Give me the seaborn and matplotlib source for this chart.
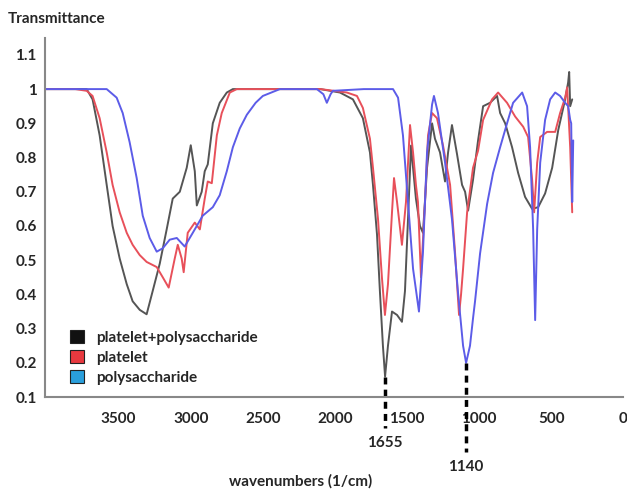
import matplotlib
matplotlib.use("Agg")
import matplotlib.pyplot as plt
from matplotlib.patches import Patch
import seaborn as sns
import pandas as pd
import numpy as np

# Données (nombre d'onde en 1/cm, transmittance)
wn_mix = [4010, 3800, 3722, 3681, 3632, 3583, 3542, 3493, 3444, 3403, 3354, 3306, 3264, 3215,
          3167, 3125, 3076, 3028, 3000, 2972, 2958, 2924, 2903, 2882, 2847, 2799, 2750, 2708,
          2400, 2100, 1965, 1875, 1806, 1757, 1736, 1708, 1688, 1667, 1652, 1632, 1604, 1569,
          1535, 1514, 1493, 1472, 1458, 1438, 1410, 1389, 1361, 1326, 1306, 1271, 1236, 1215,
          1188, 1153, 1118, 1097, 1076, 1042, 1007, 972, 924, 875, 854, 819, 771, 729, 681,
          632, 590, 542, 493, 451, 403, 382, 375, 368, 354]
t_mix = [1.0, 1.0, 1.0, 0.97, 0.865, 0.72, 0.60, 0.505, 0.43, 0.38, 0.355, 0.342, 0.41, 0.49,
         0.59, 0.68, 0.70, 0.77, 0.836, 0.76, 0.66, 0.70, 0.76, 0.78, 0.90, 0.96, 0.99, 1.0,
         1.0, 1.0, 0.99, 0.97, 0.915, 0.815, 0.72, 0.575, 0.41, 0.25, 0.16, 0.25, 0.35, 0.34,
         0.32, 0.41, 0.62, 0.835, 0.77, 0.68, 0.60, 0.58, 0.77, 0.90, 0.855, 0.815, 0.73, 0.815,
         0.895, 0.81, 0.72, 0.70, 0.645, 0.735, 0.85, 0.95, 0.96, 0.98, 0.93, 0.90, 0.83, 0.755,
         0.685, 0.65, 0.655, 0.695, 0.77, 0.88, 0.97, 1.02, 1.05, 0.95, 0.97]

wn_plat = [4010, 3800, 3722, 3681, 3632, 3583, 3542, 3493, 3444, 3403, 3354, 3306, 3236, 3194,
           3153, 3111, 3090, 3063, 3049, 3021, 2972, 2937, 2903, 2882, 2854, 2819, 2785, 2729,
           2681, 2400, 2100, 1917, 1847, 1806, 1757, 1736, 1701, 1674, 1653, 1632, 1604, 1590,
           1569, 1535, 1507, 1479, 1458, 1438, 1424, 1403, 1375, 1354, 1326, 1292, 1250, 1201,
           1167, 1139, 1125, 1111, 1083, 1042, 1007, 972, 910, 868, 806, 750, 694, 660, 632,
           618, 597, 576, 528, 472, 438, 403, 389, 368, 354]
t_plat = [1.0, 1.0, 0.995, 0.98, 0.915, 0.815, 0.72, 0.64, 0.58, 0.545, 0.515, 0.495, 0.48, 0.45,
          0.42, 0.505, 0.545, 0.505, 0.465, 0.58, 0.61, 0.59, 0.68, 0.73, 0.725, 0.865, 0.93, 0.99,
          1.0, 1.0, 1.0, 0.99, 0.98, 0.945, 0.855, 0.77, 0.62, 0.45, 0.34, 0.43, 0.64, 0.74,
          0.67, 0.545, 0.67, 0.895, 0.815, 0.72, 0.67, 0.45, 0.67, 0.865, 0.93, 0.915, 0.835, 0.72,
          0.525, 0.34, 0.40, 0.475, 0.64, 0.77, 0.82, 0.91, 0.97, 0.99, 0.96, 0.92, 0.89, 0.86, 0.735,
          0.64, 0.785, 0.86, 0.875, 0.875, 0.93, 0.975, 1.005, 0.83, 0.64]

wn_poly = [4010, 3700, 3583, 3514, 3472, 3424, 3375, 3333, 3285, 3236, 3194, 3146, 3097, 3042,
           2986, 2917, 2847, 2799, 2750, 2708, 2660, 2611, 2550, 2500, 2382, 2125, 2080, 2056,
           2030, 2014, 1800, 1597, 1562, 1528, 1493, 1458, 1417, 1389, 1361, 1326, 1313, 1285,
           1236, 1188, 1146, 1111, 1090, 1063, 1042, 1028, 993, 944, 903, 854, 806, 764, 701,
           667, 646, 625, 611, 597, 576, 542, 507, 472, 438, 403, 382, 368, 361, 354, 347]
t_poly = [1.0, 1.0, 1.0, 0.975, 0.93, 0.845, 0.74, 0.63, 0.565, 0.525, 0.535, 0.56, 0.565, 0.54,
          0.58, 0.63, 0.655, 0.69, 0.76, 0.83, 0.885, 0.925, 0.96, 0.98, 1.0, 1.0, 0.985, 0.96,
          0.985, 0.995, 1.0, 1.0, 0.975, 0.865, 0.67, 0.475, 0.35, 0.525, 0.815, 0.955, 0.98, 0.93,
          0.785, 0.62, 0.405, 0.25, 0.20, 0.25, 0.33, 0.38, 0.52, 0.665, 0.755, 0.83, 0.90, 0.96, 0.99,
          0.95, 0.83, 0.59, 0.325, 0.59, 0.785, 0.91, 0.97, 0.99, 0.98, 0.96, 0.95, 0.91, 0.90, 0.67, 0.85]

series = ["platelet+polysaccharide", "platelet", "polysaccharide"]
line_colors = ["#555555", "#e8505a", "#5c5ce8"]
legend_colors = ["#111111", "#e8393f", "#2a9fdc"]
peak_labels = ["1655", "1140"]

sns.set_style("white")
plt.rcParams["font.family"] = ["Lato", "DejaVu Sans"]
plt.rcParams["font.weight"] = "bold"

df = pd.concat([
    pd.DataFrame({"wn": wn_mix, "T": t_mix, "amostra": series[0]}),
    pd.DataFrame({"wn": wn_plat, "T": t_plat, "amostra": series[1]}),
    pd.DataFrame({"wn": wn_poly, "T": t_poly, "amostra": series[2]}),
])

fig = plt.figure(figsize=(6.27, 4.97), dpi=100)
ax = fig.add_axes([0.072, 0.201, 0.922, 0.723])

for nome, cor in zip(series, line_colors):
    sub = df[df["amostra"] == nome]
    sns.lineplot(data=sub, x="wn", y="T", color=cor, lw=1.4, sort=False,
                 estimator=None, ax=ax, legend=False)

ax.set_xlim(4010, 0)
ax.set_ylim(0.1, 1.15)
ax.set_xticks([3500, 3000, 2500, 2000, 1500, 1000, 500, 0])
ax.set_yticks(np.round(np.arange(0.1, 1.11, 0.1), 1))
ax.yaxis.set_major_formatter(matplotlib.ticker.FormatStrFormatter("%g"))
ax.set_xlabel("")
ax.set_ylabel("")
for s in ["top", "right"]:
    ax.spines[s].set_visible(False)
for s in ["left", "bottom"]:
    ax.spines[s].set_color("#888888")
    ax.spines[s].set_linewidth(1.5)
ax.tick_params(axis="x", direction="inout", length=6, color="#999999", labelsize=11, pad=8)
ax.tick_params(axis="y", direction="out", length=4, color="#999999", labelsize=11, pad=2)

# linhas tracejadas nos picos
mix_min = wn_mix[int(np.argmin(t_mix))]
poly_min = wn_poly[int(np.argmin(t_poly))]
ax.plot([mix_min, mix_min], [min(t_mix), 0.009], ls=(0, (2, 1.5)), color="black", lw=2.5, clip_on=False)
ax.plot([poly_min, poly_min], [min(t_poly), -0.06], ls=(0, (2, 1.5)), color="black", lw=2.5, clip_on=False)
ax.text(mix_min, -0.035, peak_labels[0], ha="center", va="center", fontsize=11, fontweight="bold")
ax.text(poly_min, -0.105, peak_labels[1], ha="center", va="center", fontsize=11, fontweight="bold")

handles = [Patch(facecolor=c, edgecolor="#222222", lw=0.8) for c in legend_colors]
ax.legend(handles, series, loc="upper left", bbox_to_anchor=(0.02, 0.225), frameon=False,
          handlelength=0.9, handleheight=0.9, handletextpad=0.8, labelspacing=0.35,
          prop={"weight": "bold", "size": 11})

fig.text(0.013, 0.962, "Transmittance", fontsize=11, fontweight="bold", va="center")
fig.text(0.48, 0.032, "wavenumbers (1/cm)", fontsize=11, fontweight="bold", ha="center", va="center")

fig.savefig("out.png", dpi=100)
